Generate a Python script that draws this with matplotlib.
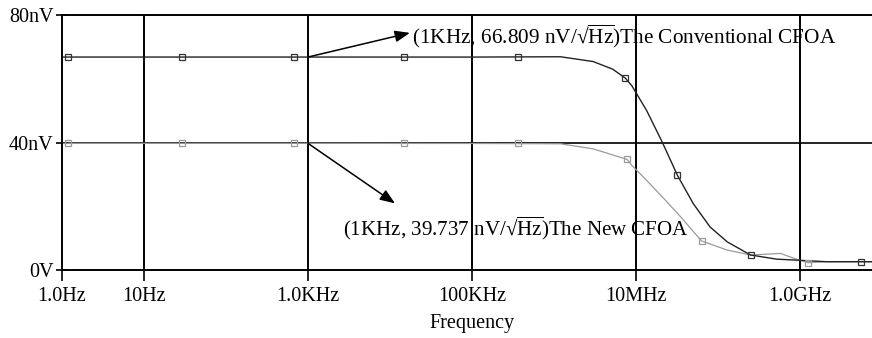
import numpy as np
import matplotlib
matplotlib.use("Agg")
import matplotlib.pyplot as plt
from matplotlib.ticker import FixedLocator, NullLocator

plt.rcParams['font.family'] = ['Liberation Serif', 'DejaVu Serif']
plt.rcParams['mathtext.fontset'] = 'custom'
plt.rcParams['mathtext.rm'] = 'Liberation Serif'

# conventional CFOA noise curve (Hz, nV/sqrt(Hz))
conv_freq = [1, 1e3, 1e5, 1.2e6, 3e6, 5.2e6, 7.4e6, 8.9e6, 1.35e7, 2.1e7, 3.2e7,
             5e7, 8e7, 1.3e8, 2.5e8, 5.2e8, 9e8, 2.1e9, 1e10]
conv_val = [66.809, 66.809, 66.8, 66.9, 65.4, 63.0, 60.2, 57.8, 50.0, 40.0, 29.7,
            20.8, 13.5, 8.8, 4.7, 3.4, 3.1, 2.6, 2.6]
conv_mk_freq = [1.2, 29, 680, 1.5e4, 3.6e5, 7.4e6, 3.2e7, 2.5e8, 5.6e9]
conv_mk_val = [66.809, 66.809, 66.809, 66.8, 66.8, 60.2, 29.7, 4.7, 2.6]

# new CFOA noise curve
new_freq = [1, 1e3, 1e5, 1.2e6, 3e6, 7.8e6, 8.9e6, 1.35e7, 2.1e7, 3.5e7, 6.3e7,
            1.3e8, 2.5e8, 5.8e8, 9e8, 1.26e9, 2.1e9, 1e10]
new_val = [39.737, 39.737, 39.7, 39.6, 38.0, 34.7, 32.8, 28.1, 22.9, 16.7, 9.1,
           6.25, 4.7, 5.2, 3.4, 2.3, 2.6, 2.6]
new_mk_freq = [1.2, 29, 680, 1.5e4, 3.6e5, 7.8e6, 6.3e7, 1.26e9]
new_mk_val = [39.737, 39.737, 39.737, 39.7, 39.7, 34.7, 9.1, 2.3]

xticks = [1, 10, 1e3, 1e5, 1e7, 1e9]
xlabels = ["1.0Hz", "10Hz", "1.0KHz", "100KHz", "10MHz", "1.0GHz"]
yticks = [0, 40, 80]
ylabels = ["0V", "40nV", "80nV"]

FS = 14.5
UNIT = r"nV/√$\overline{\mathrm{Hz}}$"

fig = plt.figure(figsize=(8.72, 3.38), dpi=100)
ax = fig.add_axes([62 / 872, 68 / 338, 820 / 872, 255 / 338])
ax.set_xscale('log')
ax.set_xlim(1, 1e10)
ax.set_ylim(0, 80)

# grid lines at the decades shown and at 40nV
for xt in xticks[1:]:
    ax.axvline(xt, color='black', lw=1.4, zorder=1)
ax.axhline(40, color='black', lw=1.2, zorder=1)

ax.plot(new_freq, new_val, color='#9a9a9a', lw=0.9, zorder=2)
ax.plot(new_mk_freq, new_mk_val, ls='none', marker='s', ms=4.5, mfc='none',
        mec='#9a9a9a', mew=0.9, zorder=3)
ax.plot(conv_freq, conv_val, color='#222222', lw=1.0, zorder=2)
ax.plot(conv_mk_freq, conv_mk_val, ls='none', marker='s', ms=4.5, mfc='none',
        mec='#333333', mew=0.9, zorder=3)

arrow = dict(arrowstyle='-|>,head_length=0.9,head_width=0.35', color='black',
             lw=1.1, shrinkA=0, shrinkB=0)
ax.annotate("", xy=(1.75e4, 74.4), xytext=(1e3, 66.809), arrowprops=arrow)
ax.annotate("", xy=(1.15e4, 20.9), xytext=(1e3, 39.737), arrowprops=arrow)
ax.text(1.86e4, 73.4, "(1KHz, 66.809 " + UNIT + ")The Conventional CFOA",
        fontsize=15.3, va='center', ha='left')
ax.text(2.68e3, 13.1, "(1KHz, 39.737 " + UNIT + ")The New CFOA",
        fontsize=15.1, va='center', ha='left')

ax.xaxis.set_major_locator(FixedLocator(xticks))
ax.xaxis.set_minor_locator(NullLocator())
ax.set_xticklabels(xlabels)
ax.set_yticks(yticks)
ax.set_yticklabels(ylabels)
ax.tick_params(axis='x', direction='out', length=8, width=1.2, pad=4, labelsize=FS)
ax.tick_params(axis='y', direction='inout', length=8, width=1.2, pad=2, labelsize=FS)
ax.set_xlabel("Frequency", fontsize=FS, labelpad=6)

for side in ['left', 'bottom', 'top']:
    ax.spines[side].set_linewidth(1.4)
ax.spines['right'].set_visible(False)

fig.savefig("out.png", dpi=100)
